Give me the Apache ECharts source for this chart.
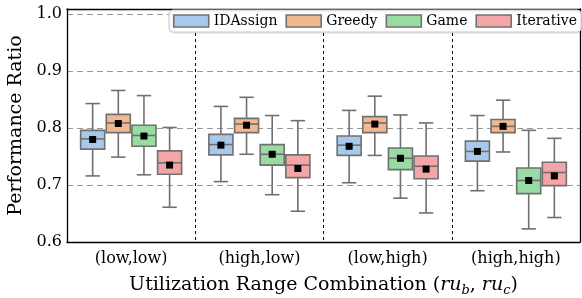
<!DOCTYPE html>
<html>
<head>
<meta charset="utf-8">
<script src="https://cdn.jsdelivr.net/npm/echarts@6/dist/echarts.min.js"></script>
<style>
  html, body { margin: 0; padding: 0; background: #fff; }
  #main { width: 582px; height: 298px; }
</style>
</head>
<body>
<div id="main"></div>
<script>
// categories and series
var categories = ['(low,low)', '(high,low)', '(low,high)', '(high,high)'];
var methods = ['IDAssign', 'Greedy', 'Game', 'Iterative'];
var fills = ['#a8c8ec', '#f2b890', '#98dca4', '#f4a6a6'];

// per category: [low whisker, Q1, median, Q3, high whisker]
var idassignBox = [[0.716, 0.763, 0.781, 0.796, 0.843], [0.706, 0.753, 0.771, 0.789, 0.838], [0.704, 0.752, 0.770, 0.786, 0.831], [0.690, 0.742, 0.759, 0.777, 0.822]];
var greedyBox = [[0.749, 0.792, 0.809, 0.824, 0.866], [0.754, 0.792, 0.807, 0.817, 0.854], [0.752, 0.792, 0.809, 0.820, 0.856], [0.758, 0.792, 0.803, 0.815, 0.849]];
var gameBox = [[0.718, 0.768, 0.787, 0.805, 0.857], [0.683, 0.735, 0.754, 0.771, 0.822], [0.677, 0.727, 0.747, 0.765, 0.823], [0.623, 0.685, 0.708, 0.730, 0.796]];
var iterativeBox = [[0.661, 0.719, 0.739, 0.760, 0.801], [0.654, 0.713, 0.735, 0.753, 0.813], [0.651, 0.711, 0.733, 0.751, 0.809], [0.643, 0.699, 0.722, 0.740, 0.782]];

// means (black squares)
var idassignMean = [0.780, 0.770, 0.768, 0.759];
var greedyMean = [0.808, 0.805, 0.807, 0.803];
var gameMean = [0.786, 0.754, 0.747, 0.708];
var iterativeMean = [0.735, 0.729, 0.728, 0.716];

var yTickLabels = ['0.6', '0.7', '0.8', '0.9', '1.0'];

var boxes = [idassignBox, greedyBox, gameBox, iterativeBox];
var means = [idassignMean, greedyMean, gameMean, iterativeMean];

// 5 small ticks per group on the x axis
var minorCats = [];
for (var i = 0; i < categories.length * 5; i++) minorCats.push('m' + i);

var edge = '#707070';
var font = 'DejaVu Serif';

function renderBox(params, api) {
  var k = params.seriesIndex;
  var cat = api.value(0);
  var band = api.size([1, 0])[0];
  var w = band / 5;
  var cx = api.coord([cat, 0.7])[0] + (k - 1.5) * w;
  var y = function (d) { return api.coord([cat, api.value(d)])[1]; };
  var yLow = y(1), yQ1 = y(2), yMed = y(3), yQ3 = y(4), yHigh = y(5), yMean = y(6);
  var cap = w * 0.28;
  var ls = { stroke: edge, lineWidth: 1.6 };
  return {
    type: 'group',
    children: [
      { type: 'line', shape: { x1: cx, y1: yQ1, x2: cx, y2: yLow }, style: ls },
      { type: 'line', shape: { x1: cx, y1: yQ3, x2: cx, y2: yHigh }, style: ls },
      { type: 'line', shape: { x1: cx - cap, y1: yLow, x2: cx + cap, y2: yLow }, style: ls },
      { type: 'line', shape: { x1: cx - cap, y1: yHigh, x2: cx + cap, y2: yHigh }, style: ls },
      { type: 'rect', shape: { x: cx - w / 2 + 0.8, y: yQ3, width: w - 1.6, height: yQ1 - yQ3 },
        style: { fill: api.visual('color'), stroke: edge, lineWidth: 1.6 } },
      { type: 'line', shape: { x1: cx - w / 2 + 0.8, y1: yMed, x2: cx + w / 2 - 0.8, y2: yMed }, style: ls },
      { type: 'rect', shape: { x: cx - 3.5, y: yMean - 3.5, width: 7, height: 7 }, style: { fill: '#000' } }
    ]
  };
}

var series = methods.map(function (name, k) {
  return {
    name: name,
    type: 'custom',
    xAxisIndex: 0,
    yAxisIndex: 0,
    itemStyle: { color: fills[k] },
    renderItem: renderBox,
    encode: { x: 0, y: [1, 2, 3, 4, 5, 6] },
    data: boxes[k].map(function (b, i) { return [i, b[0], b[1], b[2], b[3], b[4], means[k][i]]; }),
    z: 3
  };
});

var axisLine = { show: true, lineStyle: { color: '#000', width: 1.3 } };
var tickStyle = { color: '#000', width: 1.1 };

var myChart = echarts.init(document.getElementById('main'));
var option = {
  animation: false,
  textStyle: { fontFamily: font, color: '#000' },
  grid: { left: 67, right: 2, top: 9, bottom: 56, outerBoundsMode: 'none', containLabel: false },
  legend: {
    data: methods.map(function (n, k) {
      return { name: n, icon: 'rect', itemStyle: { color: fills[k], borderColor: edge, borderWidth: 1.6 } };
    }),
    right: 1, top: 10,
    padding: [4, 4, 4, 4],
    itemWidth: 35, itemHeight: 12, itemGap: 8,
    backgroundColor: '#fff',
    borderColor: '#cccccc', borderWidth: 1, borderRadius: 4,
    shadowColor: 'rgba(0,0,0,0.12)', shadowBlur: 2, shadowOffsetX: 1, shadowOffsetY: 1,
    textStyle: { fontFamily: font, fontSize: 14, color: '#000' }
  },
  xAxis: [
    {
      type: 'category', data: categories, position: 'bottom',
      axisLine: axisLine,
      axisTick: { inside: true, alignWithLabel: true, length: 6, lineStyle: tickStyle },
      axisLabel: { fontFamily: font, fontSize: 16, color: '#000', margin: 9 },
      splitLine: { show: true, lineStyle: { color: '#000', type: [3, 3], width: 1 } },
      name: '{t|Utilization Range Combination (}{i|ru}{s|b}{t|, }{i|ru}{s|c}{t|)}',
      nameLocation: 'middle', nameGap: 32,
      nameTextStyle: {
        rich: {
          t: { fontFamily: font, fontSize: 19, color: '#000' },
          i: { fontFamily: font, fontSize: 19, fontStyle: 'italic', color: '#000' },
          s: { fontFamily: font, fontSize: 13, fontStyle: 'italic', color: '#000', padding: [10, 0, 0, 0] }
        }
      }
    },
    {
      type: 'category', data: minorCats, position: 'bottom', gridIndex: 0,
      axisLine: { show: false },
      axisTick: { inside: true, alignWithLabel: true, length: 3, lineStyle: tickStyle },
      axisLabel: { show: false }, splitLine: { show: false }
    },
    {
      type: 'category', data: categories, position: 'top',
      axisLine: axisLine,
      axisTick: { inside: true, alignWithLabel: true, length: 6, lineStyle: tickStyle },
      axisLabel: { show: false }, splitLine: { show: false }
    },
    {
      type: 'category', data: minorCats, position: 'top',
      axisLine: { show: false },
      axisTick: { inside: true, alignWithLabel: true, length: 3, lineStyle: tickStyle },
      axisLabel: { show: false }, splitLine: { show: false }
    }
  ],
  yAxis: [
    {
      type: 'value', min: 0.6, max: 1.009, interval: 0.1, position: 'left',
      axisLine: axisLine,
      axisTick: { inside: true, length: 6, lineStyle: tickStyle },
      axisLabel: {
        fontFamily: font, fontSize: 16, color: '#000', margin: 5,
        formatter: function (v) {
          var s = v.toFixed(1);
          return (yTickLabels.indexOf(s) >= 0 && Math.abs(v - parseFloat(s)) < 1e-6) ? s : '';
        }
      },
      splitLine: { show: true, lineStyle: { color: '#999', type: [6, 4], width: 1.2 } },
      name: 'Performance Ratio', nameLocation: 'middle', nameGap: 40,
      nameTextStyle: { fontFamily: font, fontSize: 19, color: '#000' }
    },
    {
      type: 'value', min: 0.6, max: 1.009, interval: 0.02, position: 'left',
      axisLine: { show: false },
      axisTick: { inside: true, length: 3, lineStyle: tickStyle },
      axisLabel: { show: false }, splitLine: { show: false }
    },
    {
      type: 'value', min: 0.6, max: 1.009, interval: 0.1, position: 'right',
      axisLine: axisLine,
      axisTick: { inside: true, length: 6, lineStyle: tickStyle },
      axisLabel: { show: false }, splitLine: { show: false }
    },
    {
      type: 'value', min: 0.6, max: 1.009, interval: 0.02, position: 'right',
      axisLine: { show: false },
      axisTick: { inside: true, length: 3, lineStyle: tickStyle },
      axisLabel: { show: false }, splitLine: { show: false }
    }
  ],
  series: series
};
myChart.setOption(option);
</script>
</body>
</html>
